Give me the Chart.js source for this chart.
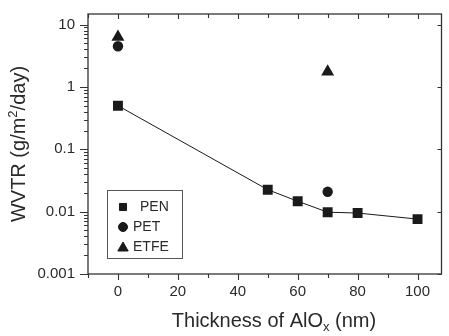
<!DOCTYPE html>
<html>
<head>
<meta charset="utf-8">
<script src="https://cdn.jsdelivr.net/npm/chart.js@4/dist/chart.umd.min.js"></script>
<style>
  html, body { margin: 0; padding: 0; background: #ffffff; }
  #wrap { width: 449px; height: 336px; }
</style>
</head>
<body>
<div id="wrap"><canvas id="c" width="449" height="336"></canvas></div>
<script>
// ---- data ----
const penX = [0, 50, 60, 70, 80, 100];
const penY = [0.5, 0.0225, 0.0147, 0.0098, 0.0095, 0.0076];
const petX = [0, 70];
const petY = [4.5, 0.0208];
const etfeX = [0, 70];
const etfeY = [6.35, 1.75];

const seriesNames = ['PEN', 'PET', 'ETFE'];
const xTickValues = [0, 20, 40, 60, 80, 100];
const xMinorValues = [-10, 10, 30, 50, 70, 90];
const yTickValues = [0.001, 0.01, 0.1, 1, 10];
const yTickLabels = ['0.001', '0.01', '0.1', '1', '10'];

const FONT = '"Liberation Sans", Arial, Helvetica, sans-serif';
const INK = '#1a1a1a';
const TEXT = '#2a2a2a';

function pts(xs, ys) { return xs.map((x, i) => ({ x: x, y: ys[i] })); }

const framePlugin = {
  id: 'frame',
  afterDraw(chart) {
    const ctx = chart.ctx;
    const a = chart.chartArea;
    const xs = chart.scales.x, ys = chart.scales.y;
    ctx.save();
    ctx.strokeStyle = '#333';
    ctx.lineWidth = 1.3;
    ctx.strokeRect(a.left, a.top, a.right - a.left, a.bottom - a.top);
    ctx.lineWidth = 1.1;
    ctx.beginPath();
    // left axis ticks (outward), majors + log minors
    yTickValues.forEach(v => {
      const y = Math.round(ys.getPixelForValue(v)) + 0.5;
      ctx.moveTo(a.left - 8, y); ctx.lineTo(a.left, y);
      ctx.moveTo(a.right - 4, y); ctx.lineTo(a.right, y);
      for (let k = 2; k <= 9; k++) {
        const mv = v * k;
        if (mv > ys.max) break;
        const my = Math.round(ys.getPixelForValue(mv)) + 0.5;
        ctx.moveTo(a.left - 4, my); ctx.lineTo(a.left, my);
      }
    });
    // bottom & top axis ticks
    xTickValues.forEach(v => {
      const x = Math.round(xs.getPixelForValue(v)) + 0.5;
      ctx.moveTo(x, a.bottom); ctx.lineTo(x, a.bottom + 6);
      ctx.moveTo(x, a.top); ctx.lineTo(x, a.top + 5);
    });
    xMinorValues.forEach(v => {
      const x = Math.round(xs.getPixelForValue(v)) + 0.5;
      ctx.moveTo(x, a.bottom); ctx.lineTo(x, a.bottom + 4);
      ctx.moveTo(x, a.top); ctx.lineTo(x, a.top + 4);
    });
    ctx.stroke();

    // legend box inside plot
    ctx.lineWidth = 1;
    ctx.strokeStyle = '#555';
    ctx.strokeRect(107.5, 190.5, 75, 68);
    const legendRows = [207, 227, 247];
    const legendTextX = [140, 133, 133];
    const legendRadius = [5, 4.5, 6];
    chart.data.datasets.forEach((ds, i) => {
      ctx.fillStyle = INK;
      ctx.strokeStyle = INK;
      Chart.helpers.drawPoint(ctx, { pointStyle: ds.pointStyle, radius: legendRadius[i], borderWidth: 1, rotation: 0 }, 123, legendRows[i] + (ds.pointStyle === 'triangle' ? 1 : 0));
      ctx.fillStyle = TEXT;
      ctx.font = '14px ' + FONT;
      ctx.textAlign = 'left';
      ctx.textBaseline = 'middle';
      ctx.fillText(seriesNames[i], legendTextX[i], legendRows[i] + 0.5);
    });

    // axis titles with super/subscripts
    ctx.fillStyle = TEXT;
    ctx.textBaseline = 'alphabetic';
    ctx.textAlign = 'left';
    const big = '20px ' + FONT, small = '13px ' + FONT;
    // x title
    const xParts = [['Thickness of AlO', big, 0], ['x', small, 4], [' (nm)', big, 0]];
    let tw = 0;
    xParts.forEach(p => { ctx.font = p[1]; tw += ctx.measureText(p[0]).width; });
    let cx = 274 - tw / 2;
    xParts.forEach(p => { ctx.font = p[1]; ctx.fillText(p[0], cx, 327 + p[2]); cx += ctx.measureText(p[0]).width; });
    // y title
    const yParts = [['WVTR (g/m', big, 0], ['2', small, -8], ['/day)', big, 0]];
    tw = 0;
    yParts.forEach(p => { ctx.font = p[1]; tw += ctx.measureText(p[0]).width; });
    ctx.translate(25, (a.top + a.bottom) / 2);
    ctx.rotate(-Math.PI / 2);
    cx = -tw / 2;
    yParts.forEach(p => { ctx.font = p[1]; ctx.fillText(p[0], cx, p[2]); cx += ctx.measureText(p[0]).width; });
    ctx.restore();
  }
};

new Chart(document.getElementById('c'), {
  type: 'scatter',
  data: {
    datasets: [
      { label: seriesNames[0], data: pts(penX, penY), showLine: true, borderColor: INK, borderWidth: 1,
        backgroundColor: INK, pointStyle: 'rect', pointRadius: 7, pointBorderColor: INK, pointBackgroundColor: INK, pointBorderWidth: 0 },
      { label: seriesNames[1], data: pts(petX, petY), showLine: false,
        backgroundColor: INK, pointStyle: 'circle', pointRadius: 5.2, pointBorderColor: INK, pointBackgroundColor: INK, pointBorderWidth: 0 },
      { label: seriesNames[2], data: pts(etfeX, etfeY), showLine: false,
        backgroundColor: INK, pointStyle: 'triangle', pointRadius: 7.5, pointBorderColor: INK, pointBackgroundColor: INK, pointBorderWidth: 0 }
    ]
  },
  options: {
    responsive: false,
    animation: false,
    layout: { padding: { top: 5, right: 2, left: 0, bottom: 0 } },
    plugins: { legend: { display: false }, tooltip: { enabled: false } },
    scales: {
      x: {
        type: 'linear', min: -10, max: 108,
        afterBuildTicks: s => { s.ticks = xTickValues.map(v => ({ value: v })); },
        afterFit: s => { s.height = 62; },
        grid: { drawOnChartArea: false, tickLength: 6, tickColor: 'rgba(0,0,0,0)' },
        border: { display: false },
        ticks: { padding: 3, color: TEXT, font: { family: FONT, size: 15 }, maxRotation: 0,
          callback: v => String(v) }
      },
      y: {
        type: 'logarithmic', min: 0.001, max: 14.8,
        afterBuildTicks: s => { s.ticks = yTickValues.map(v => ({ value: v })); },
        afterFit: s => { s.width = 88; },
        grid: { drawOnChartArea: false, tickLength: 8, tickColor: 'rgba(0,0,0,0)' },
        border: { display: false },
        ticks: { padding: 5, color: TEXT, font: { family: FONT, size: 15 },
          callback: v => { const i = yTickValues.findIndex(t => Math.abs(t - v) / t < 1e-6); return i >= 0 ? yTickLabels[i] : ''; } }
      }
    }
  },
  plugins: [framePlugin]
});
</script>
</body>
</html>
